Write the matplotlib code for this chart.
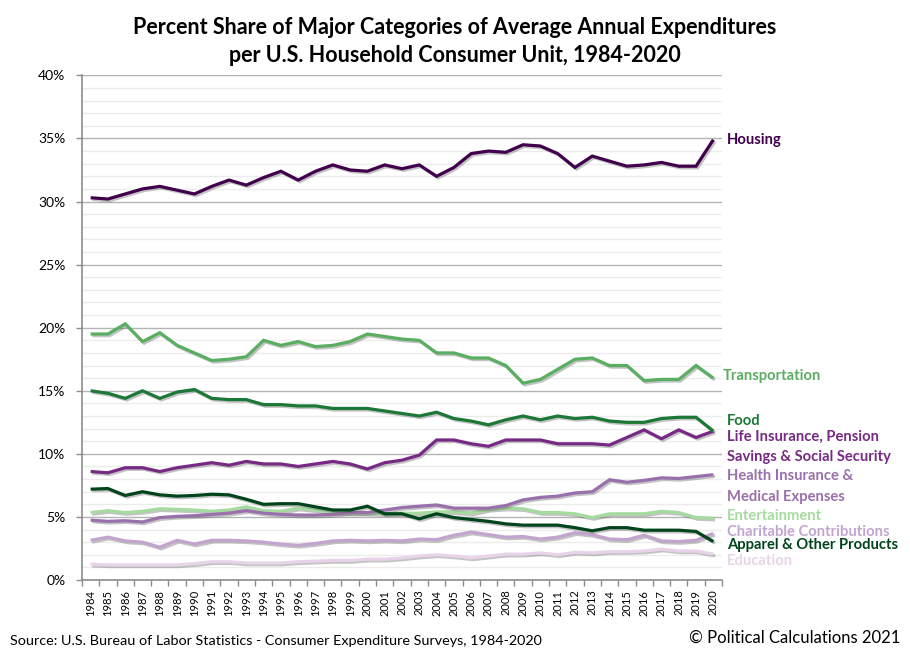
"""
Percent share of major categories of average annual expenditures
per U.S. household consumer unit, 1984-2020 (line chart recreation).
"""

import matplotlib
matplotlib.use("Agg")
import matplotlib.pyplot as plt
import matplotlib.patheffects as pe
from matplotlib.ticker import MultipleLocator, FuncFormatter

# ---------------------------------------------------------------------------
# Data (percent of total annual expenditures)
# ---------------------------------------------------------------------------
years = list(range(1984, 2021))

housing = [30.3, 30.2, 30.6, 31.0, 31.2, 30.9, 30.6, 31.2, 31.7, 31.3,
           31.9, 32.4, 31.7, 32.4, 32.9, 32.5, 32.4, 32.9, 32.6, 32.9,
           32.0, 32.7, 33.8, 34.0, 33.9, 34.5, 34.4, 33.8, 32.7, 33.6,
           33.2, 32.8, 32.9, 33.1, 32.8, 32.8, 34.9]

transportation = [19.5, 19.5, 20.3, 18.9, 19.6, 18.6, 18.0, 17.4, 17.5, 17.7,
                  19.0, 18.6, 18.9, 18.5, 18.6, 18.9, 19.5, 19.3, 19.1, 19.0,
                  18.0, 18.0, 17.6, 17.6, 17.0, 15.6, 15.9, 16.7, 17.5, 17.6,
                  17.0, 17.0, 15.8, 15.9, 15.9, 17.0, 16.0]

food = [15.0, 14.8, 14.4, 15.0, 14.4, 14.9, 15.1, 14.4, 14.3, 14.3,
        13.9, 13.9, 13.8, 13.8, 13.6, 13.6, 13.6, 13.4, 13.2, 13.0,
        13.3, 12.8, 12.6, 12.3, 12.7, 13.0, 12.7, 13.0, 12.8, 12.9,
        12.6, 12.5, 12.5, 12.8, 12.9, 12.9, 11.8]

life_insurance = [8.6, 8.5, 8.9, 8.9, 8.6, 8.9, 9.1, 9.3, 9.1, 9.4,
                  9.2, 9.2, 9.0, 9.2, 9.4, 9.2, 8.8, 9.3, 9.5, 9.9,
                  11.1, 11.1, 10.8, 10.6, 11.1, 11.1, 11.1, 10.8, 10.8, 10.8,
                  10.7, 11.3, 11.9, 11.2, 11.9, 11.3, 11.8]

health = [4.75, 4.65, 4.7, 4.6, 4.95, 5.05, 5.1, 5.2, 5.3, 5.5,
          5.3, 5.2, 5.15, 5.15, 5.2, 5.35, 5.35, 5.55, 5.75, 5.85,
          5.95, 5.7, 5.7, 5.7, 5.9, 6.35, 6.55, 6.65, 6.9, 7.0,
          7.95, 7.75, 7.9, 8.1, 8.05, 8.2, 8.35]

entertainment = [5.35, 5.5, 5.35, 5.45, 5.65, 5.6, 5.55, 5.45, 5.55, 5.8,
                 5.5, 5.45, 5.7, 5.55, 5.35, 5.3, 5.3, 5.25, 5.3, 5.3,
                 5.4, 5.4, 5.3, 5.6, 5.7, 5.65, 5.35, 5.35, 5.25, 4.95,
                 5.25, 5.25, 5.25, 5.45, 5.35, 4.95, 4.9]

charitable = [3.15, 3.4, 3.1, 3.0, 2.6, 3.15, 2.85, 3.15, 3.15, 3.1,
              3.0, 2.85, 2.75, 2.9, 3.1, 3.15, 3.1, 3.15, 3.1, 3.25,
              3.2, 3.55, 3.8, 3.6, 3.4, 3.45, 3.25, 3.4, 3.75, 3.6,
              3.25, 3.2, 3.55, 3.1, 3.05, 3.15, 3.7]

apparel = [7.2, 7.25, 6.7, 7.0, 6.75, 6.65, 6.7, 6.8, 6.75, 6.4,
           6.0, 6.05, 6.05, 5.8, 5.55, 5.55, 5.85, 5.25, 5.25, 4.85,
           5.25, 4.95, 4.8, 4.65, 4.45, 4.35, 4.35, 4.35, 4.15, 3.9,
           4.15, 4.15, 3.95, 3.95, 3.95, 3.85, 3.05]

education = [1.25, 1.2, 1.2, 1.2, 1.2, 1.2, 1.3, 1.45, 1.45, 1.35,
             1.35, 1.35, 1.45, 1.5, 1.55, 1.55, 1.65, 1.65, 1.75, 1.9,
             2.0, 1.9, 1.75, 1.9, 2.05, 2.05, 2.15, 2.0, 2.2, 2.15,
             2.25, 2.25, 2.3, 2.45, 2.3, 2.3, 2.05]

# (series, colour, label lines, label y in percent units)
series = [
    (housing, "#40004b", ["Housing"], [34.9]),
    (transportation, "#5aae61", ["Transportation"], [16.15]),
    (food, "#1b7837", ["Food"], [12.6]),
    (life_insurance, "#762a83", ["Life Insurance, Pension", "Savings & Social Security"], [11.35, 9.75]),
    (health, "#9970ab", ["Health Insurance &", "Medical Expenses"], [8.25, 6.6]),
    (entertainment, "#a6dba0", ["Entertainment"], [5.07]),
    (charitable, "#c2a5cf", ["Charitable Contributions"], [3.8]),
    (apparel, "#00441b", ["Apparel & Other Products"], [2.78]),
    (education, "#e7d4e8", ["Education"], [1.5]),
]

# draw order: back to front, as in the original
draw_order = [8, 6, 5, 4, 7, 3, 2, 1, 0]

FONT = "Lato"
AXIS_GRAY = "#8c8c8c"


def main():
    fig = plt.figure(figsize=(9.10, 6.61), dpi=100)
    ax = fig.add_axes([0.0901, 0.1225, 0.7033, 0.7635])

    x = list(range(len(years)))
    shadow = [pe.SimpleLineShadow(offset=(1.2, -1.2), shadow_color="#555555", alpha=0.35),
              pe.Normal()]

    for z, idx in enumerate(draw_order):
        values, color, _, _ = series[idx]
        ax.plot(x, values, color=color, lw=2.3, solid_joinstyle="miter",
                solid_capstyle="butt", path_effects=shadow, zorder=3 + z)

    # axes / grid
    ax.set_xlim(-0.5, len(years) - 0.5)
    ax.set_ylim(0, 40)
    ax.yaxis.set_major_locator(MultipleLocator(5))
    ax.yaxis.set_minor_locator(MultipleLocator(1))
    ax.yaxis.set_major_formatter(FuncFormatter(lambda v, _: f"{v:.0f}%"))
    ax.grid(axis="y", which="major", color="#b4b4b4", lw=1.0, zorder=1)
    ax.grid(axis="y", which="minor", color="#ececec", lw=1.0, zorder=0)

    ax.set_xticks(x)
    ax.set_xticklabels([str(y) for y in years], rotation=90, fontsize=8,
                       family=FONT)
    ax.set_xticks([i + 0.5 for i in range(-1, len(years))], minor=True)
    ax.tick_params(axis="x", which="major", length=0, pad=7)
    ax.tick_params(axis="x", which="minor", length=4, color=AXIS_GRAY, width=1)
    ax.tick_params(axis="y", which="major", length=4, color=AXIS_GRAY, width=1,
                   labelsize=10, pad=8)
    ax.tick_params(axis="y", which="minor", length=0)
    for lab in ax.get_yticklabels():
        lab.set_family(FONT)

    for side in ("top", "right"):
        ax.spines[side].set_visible(False)
    for side in ("left", "bottom"):
        ax.spines[side].set_color(AXIS_GRAY)
        ax.spines[side].set_linewidth(1.2)
        ax.spines[side].set_zorder(20)

    # right-hand series labels
    for idx, (values, color, lines, ys) in enumerate(series):
        lx = 36.55 if idx == 1 else 36.8
        for text, ly in zip(lines, ys):
            ax.text(lx, ly, text, color=color, fontsize=10.6, fontweight="bold",
                    family=FONT, ha="left", va="center", clip_on=False)

    fig.text(0.5, 0.974, "Percent Share of Major Categories of Average Annual Expenditures\n"
             "per U.S. Household Consumer Unit, 1984-2020",
             ha="center", va="top", fontsize=15.5, fontweight="bold", family=FONT,
             linespacing=1.4)

    fig.text(0.011, 0.021, "Source: U.S. Bureau of Labor Statistics - Consumer Expenditure Surveys, 1984-2020",
             ha="left", va="bottom", fontsize=10.4, family=FONT)
    fig.text(0.989, 0.023, "\u00a9 Political Calculations 2021",
             ha="right", va="bottom", fontsize=12, family=FONT)

    fig.savefig("out.png", dpi=100, facecolor="white")
    plt.close(fig)


if __name__ == "__main__":
    main()
